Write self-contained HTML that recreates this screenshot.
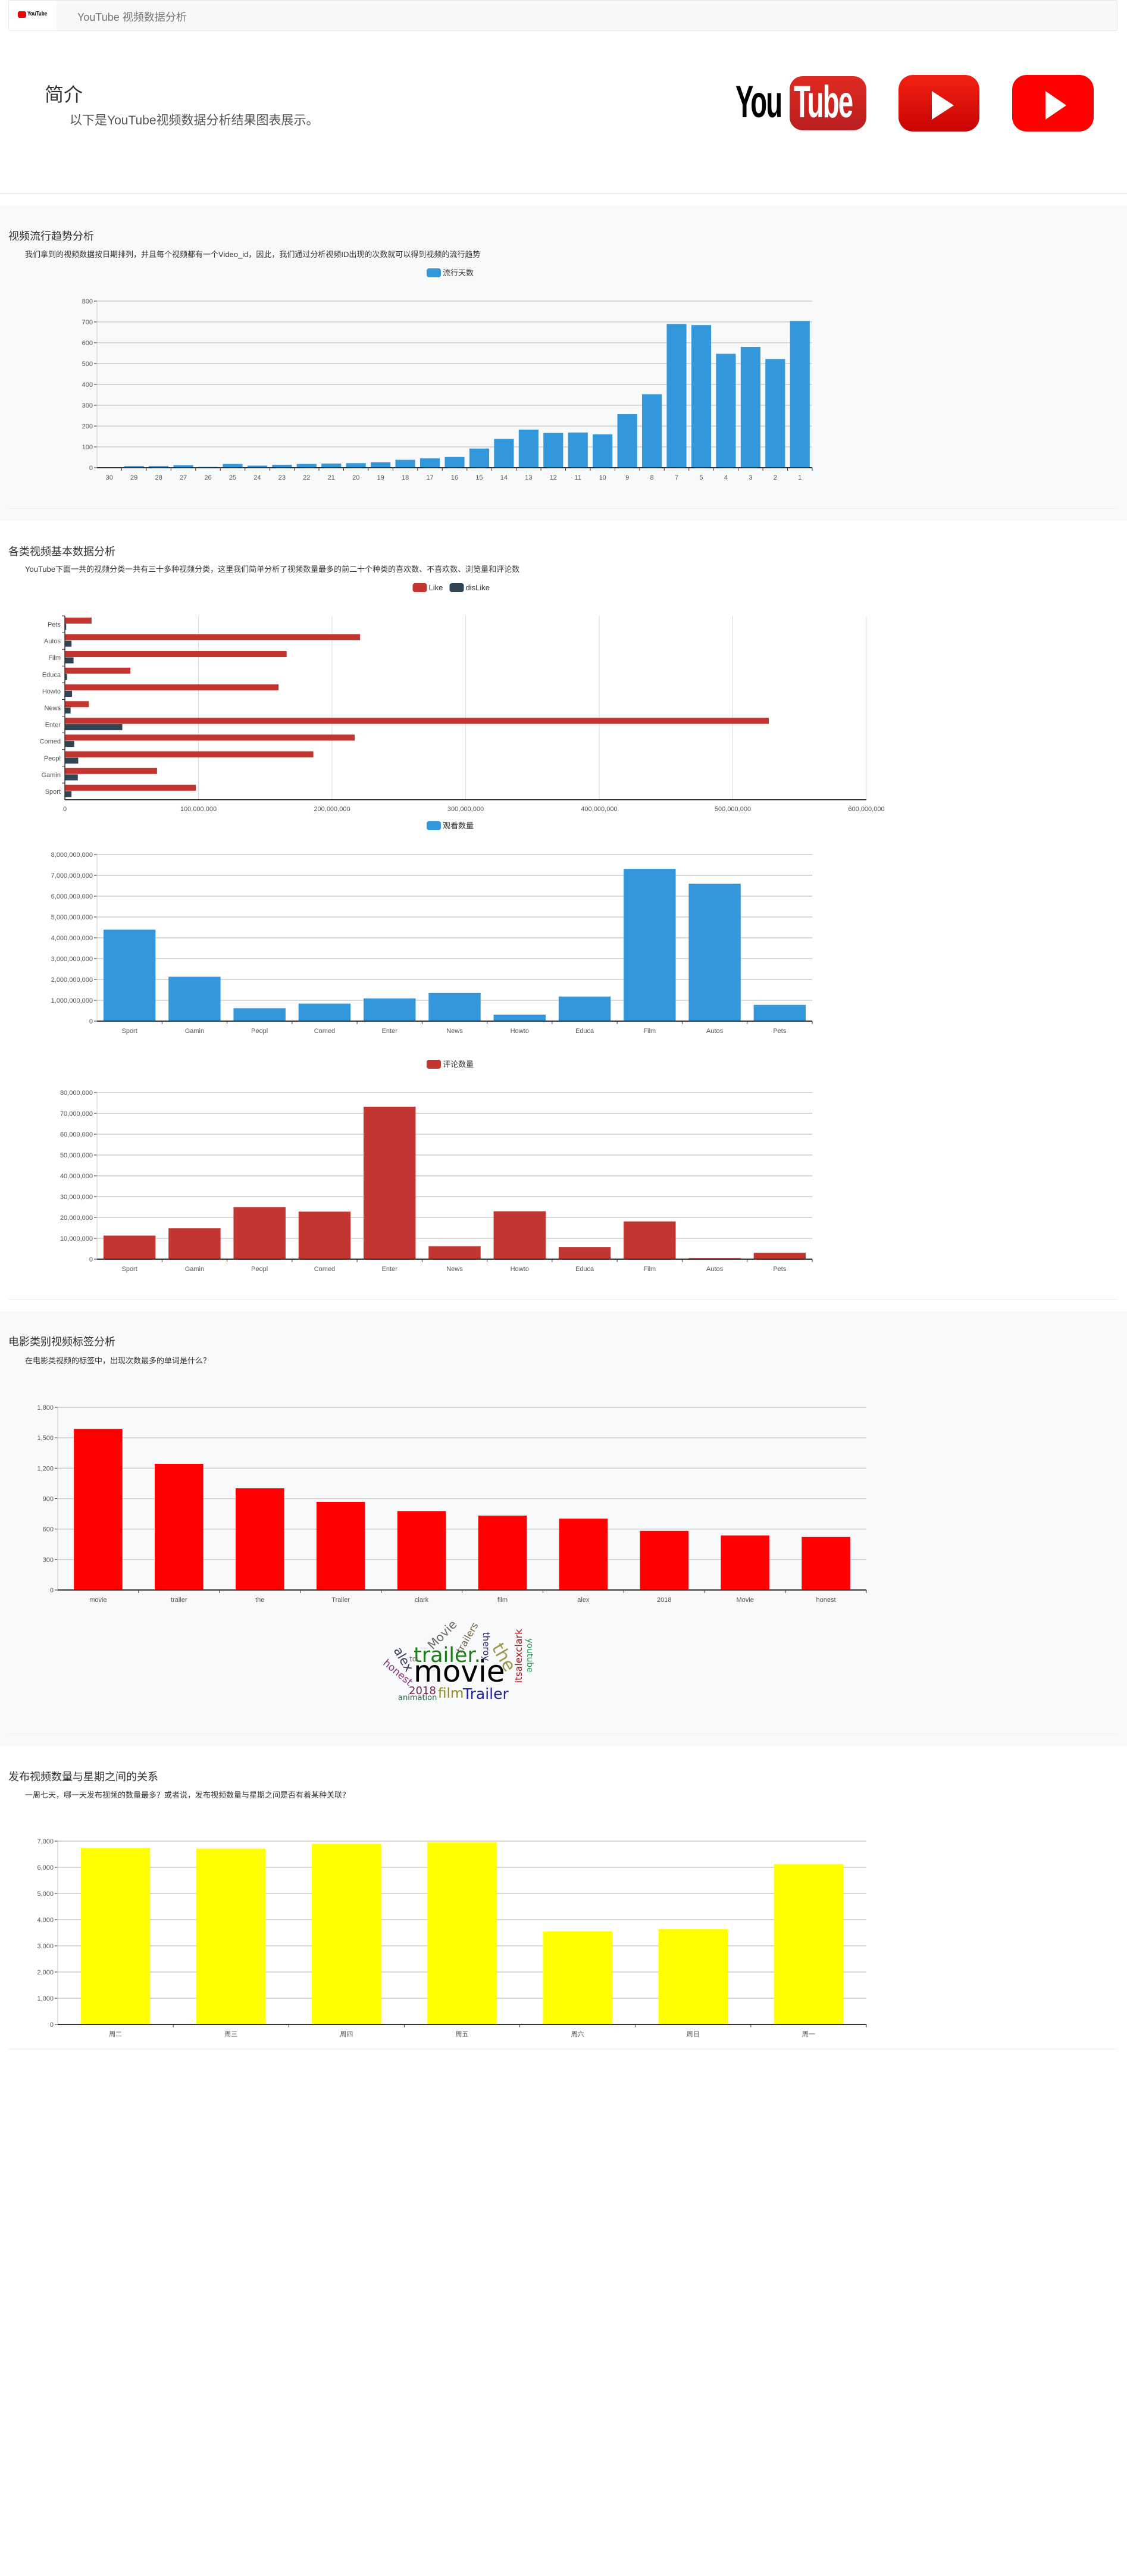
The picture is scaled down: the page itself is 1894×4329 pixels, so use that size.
<!DOCTYPE html>
<html><head><meta charset="utf-8">
<style>
*{margin:0;padding:0;box-sizing:border-box}
body{width:1894px;height:4329px;position:relative;background:#fff;font-family:"Liberation Sans","Noto Sans CJK SC",sans-serif;color:#333;overflow:hidden}
.abs{position:absolute}
.t{position:absolute;white-space:nowrap}
</style></head><body>
<div class="abs" style="left:14px;top:0;width:1864px;height:52px;background:#f8f8f8;border:1px solid #e7e7e7;border-radius:3px"></div>
<div class="abs" style="left:15px;top:1px;width:80px;height:50px;background:#fff"></div>
<div class="abs" style="left:30px;top:19px;width:14px;height:11px;background:#e00;border-radius:3px"></div>
<div class="t" style="left:46px;top:18px;font-size:10px;font-weight:bold;color:#000;transform:scaleX(0.8);transform-origin:left">YouTube</div>
<div class="t" style="left:130px;top:15px;font-size:18px;color:#777">YouTube 视频数据分析</div>

<div class="t" style="left:75px;top:134px;font-size:32px;color:#333">简介</div>
<div class="t" style="left:117px;top:186px;font-size:21px;color:#555">以下是YouTube视频数据分析结果图表展示。</div>

<div class="t" style="left:1236px;top:128px;font-size:76px;font-weight:bold;color:#000;letter-spacing:-3px;transform:scaleX(0.6);transform-origin:left">You</div>
<div class="abs" style="left:1327px;top:128px;width:129px;height:91px;border-radius:22px;background:linear-gradient(#e02a20,#b81e20)"></div>
<div class="t" style="left:1334px;top:128px;font-size:76px;font-weight:bold;color:#fff;letter-spacing:-3px;transform:scaleX(0.6);transform-origin:left">Tube</div>
<div class="abs" style="left:1510px;top:126px;width:136px;height:95px;border-radius:24px;background:linear-gradient(#f22212,#c80404)"></div>
<div class="abs" style="left:1566px;top:153px;width:0;height:0;border-top:24px solid transparent;border-bottom:24px solid transparent;border-left:37px solid #fff"></div>
<div class="abs" style="left:1701px;top:126px;width:137px;height:95px;border-radius:24px;background:#fe0000"></div>
<div class="abs" style="left:1757px;top:153px;width:0;height:0;border-top:24px solid transparent;border-bottom:24px solid transparent;border-left:35px solid #fff"></div>
<div class="abs" style="left:0;top:324px;width:1894px;height:2px;background:#eee"></div>

<div class="abs" style="left:0;top:346px;width:1894px;height:529px;background:#f8f9fa"></div>
<div class="abs" style="left:14px;top:854px;width:1864px;height:1px;background:#eee"></div>
<div class="t" style="left:14px;top:383px;font-size:18px">视频流行趋势分析</div>
<div class="t" style="left:42px;top:417px;font-size:13px">我们拿到的视频数据按日期排列，并且每个视频都有一个Video_id，因此，我们通过分析视频ID出现的次数就可以得到视频的流行趋势</div>

<div class="t" style="left:14px;top:913px;font-size:18px">各类视频基本数据分析</div>
<div class="t" style="left:42px;top:946px;font-size:13px">YouTube下面一共的视频分类一共有三十多种视频分类，这里我们简单分析了视频数量最多的前二十个种类的喜欢数、不喜欢数、浏览量和评论数</div>
<div class="abs" style="left:14px;top:2183px;width:1864px;height:1px;background:#eee"></div>

<div class="abs" style="left:0;top:2204px;width:1894px;height:730px;background:#f8f9fa"></div>
<div class="abs" style="left:14px;top:2913px;width:1864px;height:1px;background:#eee"></div>
<div class="t" style="left:14px;top:2241px;font-size:18px">电影类别视频标签分析</div>
<div class="t" style="left:42px;top:2276px;font-size:13px">在电影类视频的标签中，出现次数最多的单词是什么？</div>

<div class="t" style="left:14px;top:2972px;font-size:18px">发布视频数量与星期之间的关系</div>
<div class="t" style="left:42px;top:3006px;font-size:13px">一周七天，哪一天发布视频的数量最多？或者说，发布视频数量与星期之间是否有着某种关联？</div>
<div class="abs" style="left:14px;top:3443px;width:1864px;height:1px;background:#eee"></div>

<svg id="charts" class="abs" style="left:0;top:0" width="1894" height="4329" xmlns="http://www.w3.org/2000/svg" font-family="Liberation Sans, Noto Sans CJK SC, sans-serif">
<g id="wordcloud" font-family="DejaVu Sans, sans-serif">
<text x="695" y="2826" font-size="50" fill="#000">movie</text>
<text x="695" y="2793" font-size="35" fill="#1a7f1a">trailer.</text>
<text x="838" y="2790" font-size="30" fill="#9a9a4a" text-anchor="middle" transform="rotate(60 838 2790)">the</text>
<text x="748" y="2752" font-size="20" fill="#666" text-anchor="middle" transform="rotate(-45 748 2752)">Movie</text>
<text x="790" y="2755" font-size="16" fill="#6b6040" text-anchor="middle" transform="rotate(-60 790 2755)">trailers</text>
<text x="812" y="2767" font-size="15" fill="#222266" text-anchor="middle" transform="rotate(90 812 2767)">theroy</text>
<text x="877" y="2783" font-size="16" fill="#a01010" text-anchor="middle" transform="rotate(-90 877 2783)">itsalexclark</text>
<text x="886" y="2782" font-size="14" fill="#22a050" text-anchor="middle" transform="rotate(90 886 2782)">youtube</text>
<text x="672" y="2792" font-size="21" fill="#3a3a60" text-anchor="middle" transform="rotate(60 672 2792)">alex</text>
<text x="688" y="2792" font-size="12" fill="#776">to</text>
<text x="665" y="2815" font-size="17" fill="#8b2a7a" text-anchor="middle" transform="rotate(40 665 2815)">honest</text>
<text x="687" y="2847" font-size="18" fill="#7a1a4a">2018</text>
<text x="736" y="2853" font-size="23" fill="#8a8a20">film</text>
<text x="778" y="2855" font-size="25" fill="#22229a">Trailer</text>
<text x="669" y="2857" font-size="13" fill="#2a5a4a">animation</text>
</g>
</svg>

<script>
// ---- trend chart data ----
const trendDays = ["30","29","28","27","26","25","24","23","22","21","20","19","18","17","16","15","14","13","12","11","10","9","8","7","5","4","3","2","1"];
const trendCounts = [2,8,8,12,4,18,10,14,18,20,22,26,38,45,52,92,138,183,167,169,160,257,353,690,685,547,580,522,705];
const trendTicks = [0,100,200,300,400,500,600,700,800];
// ---- category chart data ----
const catNames = ["Sport","Gamin","Peopl","Comed","Enter","News","Howto","Educa","Film","Autos","Pets"];
const catLikes = [98,69,186,217,527,18,160,49,166,221,20];      // millions
const catDislikes = [5,9.7,10,7,43,4.3,5.4,1.6,6.5,5,1];        // millions
const likeTicks = [0,100,200,300,400,500,600];
const catViews = [4.39,2.13,0.62,0.84,1.09,1.35,0.31,1.18,7.31,6.6,0.78]; // billions
const viewTicks = [0,1,2,3,4,5,6,7,8];
const catComments = [11.3,14.8,25,22.8,73.2,6.2,23,5.7,18.1,0.5,3.0]; // millions
const commentTicks = [0,10,20,30,40,50,60,70,80];
// ---- tags chart data ----
const tagWords = ["movie","trailer","the","Trailer","clark","film","alex","2018","Movie","honest"];
const tagCounts = [1587,1243,1002,868,778,733,703,582,537,523];
const tagTicks = [0,300,600,900,1200,1500,1800];
// ---- weekday chart data ----
const weekDays = ["周二","周三","周四","周五","周六","周日","周一"];
const weekCounts = [6739,6713,6896,6948,3552,3639,6121];
const weekTicks = [0,1000,2000,3000,4000,5000,6000,7000];

const NS="http://www.w3.org/2000/svg";
const svg=document.getElementById('charts');
function mk(tag,attrs,parent){const e=document.createElementNS(NS,tag);for(const k in attrs)e.setAttribute(k,attrs[k]);(parent||svg).appendChild(e);return e;}
function fmt(n){return Math.round(n).toString().replace(/\B(?=(\d{3})+(?!\d))/g,",");}

function legend(items,cx,y){
  let total=0;items.forEach(it=>total+=26+it.label.length*(/[\u4e00-\u9fff]/.test(it.label)?13:7)+8);
  let x=cx-total/2;
  items.forEach(it=>{
    const g=mk('g',{});
    
    
    mk('rect',{x:x,y:y-7,width:24,height:15,rx:4,fill:it.color},g);
    const t=mk('text',{x:x+27,y:y+5,'font-size':13,fill:'#333'},g);t.textContent=it.label;
    x+=26+it.label.length*(/[\u4e00-\u9fff]/.test(it.label)?13:7)+8;
  });
}

function vchart(o){
  const g=mk('g',{});
  
  
  const max=o.ticks[o.ticks.length-1];
  const yS=v=>o.y1-(v/max)*(o.y1-o.y0);
  const band=(o.x1-o.x0)/o.cats.length;
  o.ticks.forEach(t=>{
    const y=yS(t);
    if(t>0)mk('line',{x1:o.x0,x2:o.x1,y1:y,y2:y,stroke:'#ccc','stroke-width':1.5},g);
    mk('line',{x1:o.x0-5,x2:o.x0,y1:y,y2:y,stroke:'#333'},g);
    const tx=mk('text',{x:o.x0-7,y:y+4,'font-size':11,fill:'#555','text-anchor':'end'},g);tx.textContent=o.tf?o.tf(t):fmt(t);
  });
  o.cats.forEach((c,i)=>{
    const bx=o.x0+band*i, bw=band*o.frac;
    const r=mk('rect',{x:bx+(band-bw)/2,y:yS(o.vals[i]),width:bw,height:o.y1-yS(o.vals[i]),fill:o.color},g);
    
    
    mk('line',{x1:bx+band,x2:bx+band,y1:o.y1,y2:o.y1+5,stroke:'#333'},g);
    const tx=mk('text',{x:bx+band/2,y:o.y1+20,'font-size':11,fill:'#555','text-anchor':'middle'},g);tx.textContent=c;
  });
  mk('line',{x1:o.x0,x2:o.x0,y1:o.y0,y2:o.y1,stroke:'#ccc'},g);
  mk('line',{x1:o.x0,x2:o.x1,y1:o.y1,y2:o.y1,stroke:'#333','stroke-width':2},g);
}

// trend
legend([{label:'流行天数',color:'#3398DB'}],760,458);
vchart({name:'trend-chart',cats:trendDays,vals:trendCounts,ticks:trendTicks,x0:163,x1:1365,y0:506,y1:786,frac:0.8,color:'#3398DB'});

// like / dislike horizontal
legend([{label:'Like',color:'#c23531'},{label:'disLike',color:'#2f4554'}],766,987);
(function(){
  const g=mk('g',{});
  
  
  const x0=109,x1=1456,y0=1035,y1=1344,max=likeTicks[likeTicks.length-1];
  const xS=v=>x0+v/max*(x1-x0);
  likeTicks.forEach(t=>{
    const x=xS(t);
    if(t>0)mk('line',{x1:x,x2:x,y1:y0,y2:y1,stroke:'#ddd'},g);
    const tx=mk('text',{x:x,y:y1+19,'font-size':11,fill:'#555','text-anchor':'middle'},g);tx.textContent=fmt(t*1e6);
  });
  const band=(y1-y0)/catNames.length;
  catNames.forEach((c,i)=>{
    const by=y1-band*(i+1);
    const r1=mk('rect',{x:x0,y:by+band*0.1,width:xS(catLikes[i])-x0,height:band*0.36,fill:'#c23531'},g);
    
    
    const r2=mk('rect',{x:x0,y:by+band*0.48,width:xS(catDislikes[i])-x0,height:band*0.36,fill:'#2f4554'},g);
    
    
    mk('line',{x1:x0-5,x2:x0,y1:by,y2:by,stroke:'#333'},g);
    const tx=mk('text',{x:x0-7,y:by+band/2+4,'font-size':11,fill:'#555','text-anchor':'end'},g);tx.textContent=c;
  });
  mk('line',{x1:x0,x2:x0,y1:y0,y2:y1,stroke:'#333','stroke-width':1.5},g);
  mk('line',{x1:x0,x2:x1,y1:y1,y2:y1,stroke:'#333','stroke-width':2},g);
})();

// views
legend([{label:'观看数量',color:'#3398DB'}],760,1387);
vchart({name:'views-chart',cats:catNames,vals:catViews,ticks:viewTicks,tf:t=>fmt(t*1e9),x0:163,x1:1365,y0:1436,y1:1716,frac:0.8,color:'#3398DB'});

// comments
legend([{label:'评论数量',color:'#c23531'}],760,1788);
vchart({name:'comments-chart',cats:catNames,vals:catComments,ticks:commentTicks,tf:t=>fmt(t*1e6),x0:163,x1:1365,y0:1836,y1:2116,frac:0.8,color:'#c23531'});

// tags
vchart({name:'tags-chart',cats:tagWords,vals:tagCounts,ticks:tagTicks,x0:97,x1:1456,y0:2365,y1:2672,frac:0.6,color:'#ff0000'});

// weekday
vchart({name:'weekday-chart',cats:weekDays,vals:weekCounts,ticks:weekTicks,x0:97,x1:1456,y0:3094,y1:3402,frac:0.6,color:'#ffff00'});
</script>
</body></html>
